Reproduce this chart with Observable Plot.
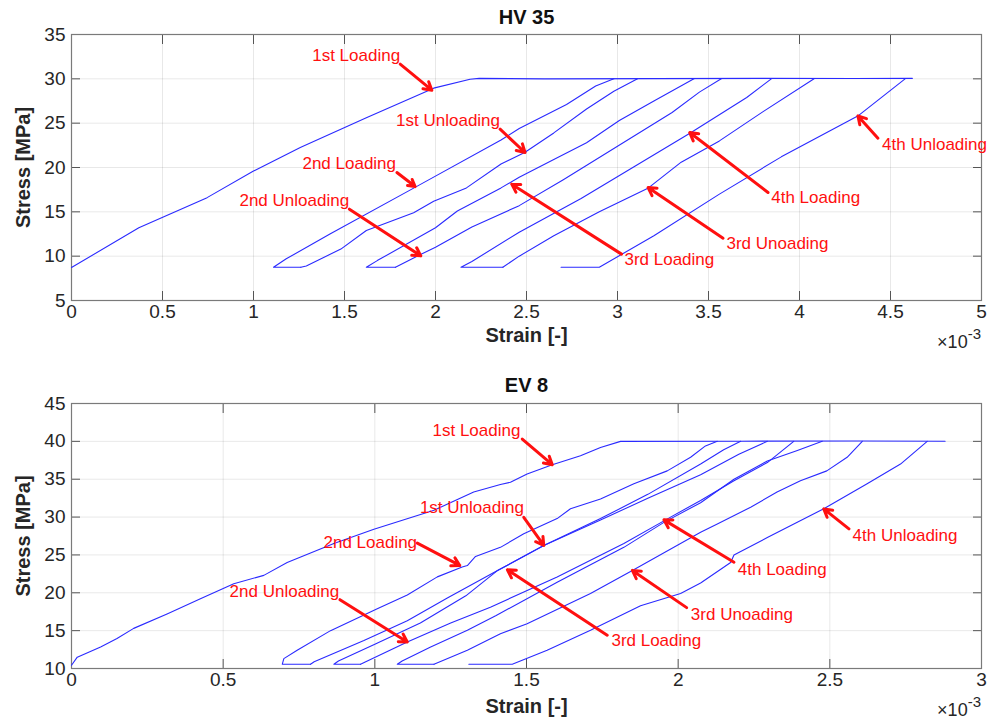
<!DOCTYPE html>
<html><head><meta charset="utf-8">
<script src="https://cdn.jsdelivr.net/npm/d3@7"></script>
<script src="https://cdn.jsdelivr.net/npm/@observablehq/plot@0.6"></script>
<style>
body{margin:0;background:#fff;}
#wrap{width:998px;height:722px;position:relative;overflow:hidden;font-family:"Liberation Sans",Arial,Helvetica,sans-serif;}
#wrap svg{display:block;}
</style></head><body><div id="wrap"></div>
<script>
// ---------- HV 35 (top panel) : strain [x1e-3], stress [MPa] ----------
const hvXTicks = [0,0.5,1,1.5,2,2.5,3,3.5,4,4.5,5];
const hvYTicks = [5,10,15,20,25,30,35];
const hvLoading1 = [[0,8.72],[0.37,13.2],[0.745,16.6],[1.0,19.6],[1.257,22.25],[1.62,25.6],[1.99,28.95],[2.19,29.95],[2.24,30.05],[2.6,30.0],[3.2,30.02],[3.8,30.05],[4.3,30.03],[4.62,30.05]];
const hvUnloading1 = [[1.26,8.75],[1.29,8.9],[1.48,10.8],[1.62,12.9],[1.88,14.9],[1.99,16.2],[2.17,17.7],[2.36,20.4],[2.49,21.7],[2.65,23.9],[2.83,26.6],[2.98,28.6],[3.11,30]];
const hvLoading2 = [[1.26,8.75],[1.11,8.75],[1.18,9.7],[1.42,12.5],[1.9,17.9],[2.36,23.1],[2.46,24.4],[2.72,27.1],[2.88,29.2],[2.98,30]];
const hvUnloading2 = [[1.78,8.75],[1.915,10.15],[2.0,11.0],[2.2,13.3],[2.46,15.7],[2.7,18.6],[3.0,22.4],[3.3,26.2],[3.45,28.5],[3.57,30]];
const hvLoading3 = [[1.78,8.75],[1.62,8.75],[1.68,9.5],[2.0,13.2],[2.12,15.1],[2.36,17.7],[2.46,18.9],[2.65,20.9],[2.83,22.8],[3.01,25.3],[3.2,27.5],[3.42,30]];
const hvUnloading3 = [[2.37,8.75],[2.46,10.0],[2.65,12.3],[2.9,15.0],[3.17,17.7],[3.35,20.6],[3.56,23.0],[3.8,26.3],[4.08,30]];
const hvLoading4 = [[2.37,8.75],[2.14,8.75],[2.2,9.4],[2.46,12.7],[2.8,16.5],[3.1,20.2],[3.40,23.9],[3.71,27.9],[3.845,30]];
const hvUnloading4 = [[2.69,8.75],[2.90,8.75],[3.2,12.3],[3.56,17.0],[3.9,21.2],[4.32,25.8],[4.58,30]];
const hvLabels = ["1st Loading","1st Unloading","2nd Loading","2nd Unloading","3rd Loading","3rd Unoading","4th Loading","4th Unloading"];
const hvLabelPos = [[1.564,32.59],[2.069,25.26],[1.526,20.41],[1.224,16.24],[3.285,9.59],[3.879,11.39],[4.089,16.58],[4.742,22.55]];
const hvArrowFrom = [[1.806,31.65],[2.355,24.32],[1.788,19.43],[1.527,15.30],[3.022,10.23],[3.580,12.03],[3.827,17.18],[4.431,23.31]];
const hvArrowTo = [[1.980,28.72],[2.492,21.69],[1.888,17.85],[1.919,10.04],[2.419,18.12],[3.168,17.74],[3.397,23.94],[4.321,25.82]];

// ---------- EV 8 (bottom panel) ----------
const evXTicks = [0,0.5,1,1.5,2,2.5,3];
const evYTicks = [10,15,20,25,30,35,40,45];
const evLoading1 = [[0,10.43],[0.019,11.5],[0.096,12.85],[0.15,13.95],[0.205,15.3],[0.315,17.2],[0.425,19.2],[0.535,21.2],[0.634,22.3],[0.711,24.0],[0.865,26.5],[0.997,28.4],[1.195,30.9],[1.326,33.3],[1.414,34.3],[1.447,34.6],[1.502,35.7],[1.585,36.9],[1.678,38.1],[1.744,39.2],[1.81,40.0],[2.2,40.02],[2.6,40.05],[2.88,40.02]];
const evLoading2 = [[0.788,10.57],[0.695,10.57],[0.70,11.3],[0.744,12.4],[0.854,15.0],[1.008,17.9],[1.107,19.7],[1.206,22.1],[1.288,23.4],[1.305,23.6],[1.332,24.8],[1.414,26.0],[1.491,27.8],[1.601,29.8],[1.645,31.1],[1.744,32.4],[1.854,34.4],[1.964,36.1],[2.041,37.9],[2.09,39.4],[2.129,40]];
const evUnloading1 = [[0.788,10.57],[0.80,10.9],[0.964,13.7],[1.107,16.3],[1.239,19.3],[1.403,22.9],[1.557,26.25],[1.744,29.8],[1.90,33.0],[2.074,37.0],[2.15,38.9],[2.206,40]];
const evLoading3 = [[0.953,10.57],[0.865,10.57],[0.88,11.0],[1.0,13.2],[1.15,16.0],[1.30,19.6],[1.403,22.9],[1.557,26.25],[1.744,29.6],[1.90,32.5],[2.074,35.6],[2.2,38.3],[2.294,40]];
const evUnloading2 = [[0.953,10.57],[0.97,10.9],[1.107,13.5],[1.25,16.0],[1.381,18.1],[1.601,22.1],[1.821,26.5],[1.953,29.5],[2.074,32.2],[2.184,34.8],[2.294,37.2],[2.381,40]];
const evLoading4 = [[1.195,10.57],[1.074,10.57],[1.09,11.0],[1.184,12.85],[1.305,15.05],[1.40,17.0],[1.601,21.4],[1.821,26.0],[1.953,29.3],[2.074,31.9],[2.184,35.0],[2.294,37.4],[2.393,38.8],[2.475,40]];
const evUnloading3 = [[1.195,10.57],[1.305,12.4],[1.414,14.6],[1.502,15.9],[1.711,19.9],[1.849,22.95],[2.074,28.0],[2.129,29.1],[2.239,31.3],[2.326,33.3],[2.403,34.8],[2.49,36.1],[2.557,37.9],[2.607,40]];
const evUnloading4 = [[1.31,10.57],[1.453,10.57],[1.568,12.4],[1.711,15.05],[1.876,18.3],[2.008,19.9],[2.074,21.3],[2.173,24.0],[2.184,25.0],[2.294,27.3],[2.48,31.1],[2.623,34.4],[2.733,37.0],[2.821,40]];
const evLabels = ["1st Loading","1st Unloading","2nd Loading","2nd Unloading","3rd Loading","3rd Unoading","4th Loading","4th Unloading"];
const evLabelPos = [[1.335,41.41],[1.320,31.29],[0.985,26.68],[0.702,20.18],[1.928,13.64],[2.210,17.15],[2.343,23.04],[2.748,27.56]];
const evArrowFrom = [[1.486,40.30],[1.491,29.97],[1.140,26.55],[0.885,19.09],[1.766,14.39],[2.028,18.04],[2.184,24.04],[2.563,28.45]];
const evArrowTo = [[1.585,36.92],[1.557,26.25],[1.280,23.61],[1.107,13.50],[1.437,23.04],[1.849,22.95],[1.953,29.63],[2.480,31.08]];

const FONT = '"Liberation Sans", Arial, Helvetica, sans-serif';

function toRows(seriesList) {
  const rows = [];
  seriesList.forEach((s, i) => s.forEach(([x, y]) => rows.push({series: i, strain: x, stress: y})));
  return rows;
}
function annots(labels, pos, from, to) {
  return labels.map((t, i) => ({text: t, x: pos[i][0], y: pos[i][1],
    x1: from[i][0], y1: from[i][1], x2: to[i][0], y2: to[i][1]}));
}

function panel(cfg) {
  const fmt = d => String(d);
  const blank = () => "";
  const rows = toRows(cfg.series);
  const ann = annots(cfg.labels, cfg.labelPos, cfg.from, cfg.to);
  const svg = Plot.plot({
    width: 998, height: 361,
    marginTop: cfg.mt, marginBottom: cfg.mb, marginLeft: 71, marginRight: 17,
    style: {fontFamily: FONT, fontSize: "19px", background: "white", color: "#262626", overflow: "visible"},
    x: {domain: cfg.xDomain, ticks: cfg.xTicks},
    y: {domain: cfg.yDomain, ticks: cfg.yTicks},
    marks: [
      Plot.gridX(cfg.xTicks, {stroke: "#000", strokeOpacity: 0.09}),
      Plot.gridY(cfg.yTicks, {stroke: "#000", strokeOpacity: 0.09}),
      Plot.axisX(cfg.xTicks, {anchor: "bottom", tickSize: -9, tickPadding: 13, tickFormat: fmt, label: null, fontSize: 19, stroke: "#555", fill: "#262626"}),
      Plot.axisX(cfg.xTicks, {anchor: "top", tickSize: -9, tickFormat: blank, label: null, stroke: "#555"}),
      Plot.axisY(cfg.yTicks, {anchor: "left", tickSize: -9, tickPadding: 15, tickFormat: fmt, label: null, fontSize: 19, stroke: "#555", fill: "#262626"}),
      Plot.axisY(cfg.yTicks, {anchor: "right", tickSize: -9, tickFormat: blank, label: null, stroke: "#555"}),
      Plot.frame({stroke: "#7a7a7a", strokeWidth: 1.2}),
      Plot.line(rows, {x: "strain", y: "stress", z: "series", stroke: "#2a2aff", strokeWidth: 1.1, curve: "linear"}),
      Plot.arrow(ann, {x1: "x1", y1: "y1", x2: "x2", y2: "y2", stroke: "#ff1010", strokeWidth: 3, headLength: 4.5, headAngle: 60}),
      Plot.text(ann, {x: "x", y: "y", text: "text", fill: "#ff1010", fontSize: 17}),
      Plot.text([cfg.title], {frameAnchor: "top", lineAnchor: "middle", textAnchor: "middle", dy: cfg.titleDy, fontWeight: "bold", fontSize: 20, fill: "#111"}),
      Plot.text(["Strain [-]"], {frameAnchor: "bottom", lineAnchor: "middle", textAnchor: "middle", dy: cfg.xlabDy, fontWeight: "bold", fontSize: 20, fill: "#262626"}),
      Plot.text(["Stress [MPa]"], {frameAnchor: "left", lineAnchor: "middle", textAnchor: "middle", dx: -48, rotate: -90, fontWeight: "bold", fontSize: 20, fill: "#262626"})
    ]
  });
  // exponent label (×10^-3) under the right end of the x axis
  const s = d3.select(svg);
  const t = s.append("text")
    .attr("x", 981).attr("y", 361 - cfg.mb + cfg.expDy)
    .attr("text-anchor", "end")
    .attr("font-family", FONT).attr("font-size", 18).attr("fill", "#262626");
  t.append("tspan").text("×10");
  t.append("tspan").attr("dy", -9).attr("font-size", 15).text("-3");
  return svg;
}

const wrap = document.getElementById("wrap");
wrap.appendChild(panel({
  title: "HV 35", titleDy: -17, xlabDy: 35, expDy: 48, mt: 34, mb: 61,
  xDomain: [0, 5], yDomain: [5, 35], xTicks: hvXTicks, yTicks: hvYTicks,
  series: [hvLoading1, hvUnloading1, hvLoading2, hvUnloading2, hvLoading3, hvUnloading3, hvLoading4, hvUnloading4],
  labels: hvLabels, labelPos: hvLabelPos, from: hvArrowFrom, to: hvArrowTo
}));
wrap.appendChild(panel({
  title: "EV 8", titleDy: -18, xlabDy: 38, expDy: 48, mt: 42, mb: 54,
  xDomain: [0, 3], yDomain: [10, 45], xTicks: evXTicks, yTicks: evYTicks,
  series: [evLoading1, evLoading2, evUnloading1, evLoading3, evUnloading2, evLoading4, evUnloading3, evUnloading4],
  labels: evLabels, labelPos: evLabelPos, from: evArrowFrom, to: evArrowTo
}));
</script></body></html>
